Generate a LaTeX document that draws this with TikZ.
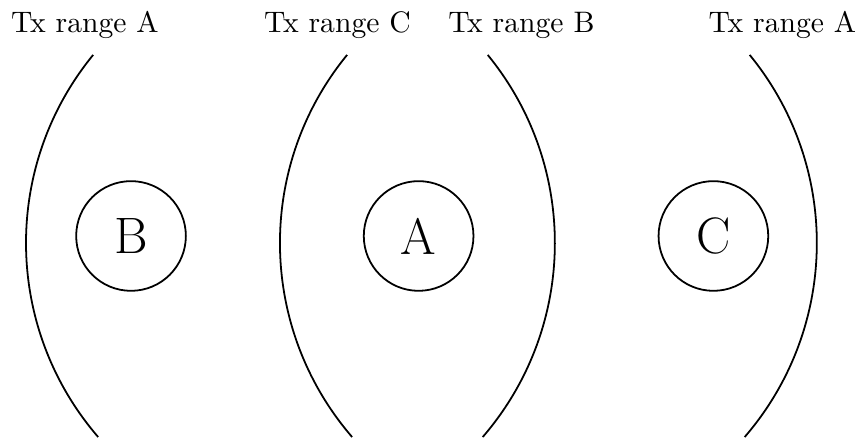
\documentclass[tikz,border=0pt]{standalone}
\usepackage{tikz}
\usetikzlibrary{positioning}

\tikzset{
  station/.style={circle,draw,semithick,minimum size=1.3cm,inner sep=0pt,font=\LARGE},
  rangelabel/.style={anchor=base,inner sep=0pt},
  rangearc/.style={semithick}
}

\begin{document}
\begin{tikzpicture}
  \useasboundingbox (0,0) rectangle (10.17,5.203);

  % Stations
  \node[station] (B) at (1.553,2.406) {B};
  \node[station] (A) at (4.962,2.406) {A};
  \node[station] (C) at (8.456,2.406) {C};

  % Range arcs
  \draw[rangearc] (3.828,2.323) ++(140.7:3.52) arc[start angle=140.7,end angle=220.8,radius=3.52];
  \draw[rangearc] (6.838,2.323) ++(140.7:3.52) arc[start angle=140.7,end angle=220.8,radius=3.52];
  \draw[rangearc] (3.057,2.323) ++(39.3:3.52) arc[start angle=39.3,end angle=-40.8,radius=3.52];
  \draw[rangearc] (6.162,2.323) ++(39.3:3.52) arc[start angle=39.3,end angle=-40.8,radius=3.52];

  % Labels
  \node[rangelabel] (rangeAleft) at (1.007,4.823) {Tx range A};
  \node[rangelabel] (rangeC) at (4.0,4.823) {Tx range C};
  \node[rangelabel] (rangeB) at (6.18,4.823) {Tx range B};
  \node[rangelabel] (rangeAright) at (9.274,4.823) {Tx range A};
\end{tikzpicture}
\end{document}
